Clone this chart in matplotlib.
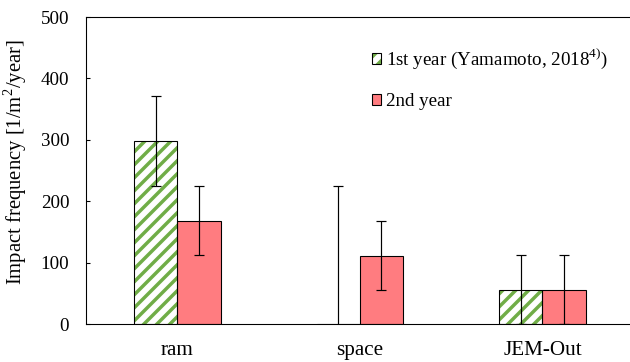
import matplotlib.pyplot as plt
from matplotlib.patches import Patch
from matplotlib.legend_handler import HandlerTuple
import numpy as np

categories = ["ram", "space", "JEM-Out"]
year1 = [298, 0, 56]
year1_err = [74, 225, 56]
year2 = [168, 111, 56]
year2_err = [56, 56, 56]

green = "#70AD47"
red = "#FF7C80"

plt.rcParams["font.family"] = ["Liberation Serif", "DejaVu Serif"]
plt.rcParams["mathtext.fontset"] = "custom"
plt.rcParams["mathtext.rm"] = "Liberation Serif"
plt.rcParams["hatch.linewidth"] = 3.2

dpi = 78
fig = plt.figure(figsize=(630 / dpi, 362 / dpi), dpi=dpi)
ax = fig.add_axes([86 / 630, 1 - 324 / 362, 1 - 86 / 630, (324 - 17) / 362])

x = np.arange(len(categories))
w = 0.237

# hatched 1st-year bars: green stripes, then a black outline on top
ax.bar(x - w / 2, year1, w, color="white", edgecolor=green, hatch="//", linewidth=0, zorder=2)
ax.bar(x - w / 2, year1, w, fill=False, edgecolor="black", linewidth=1.0, zorder=3)
ax.bar(x + w / 2, year2, w, color=red, edgecolor="black", linewidth=1.0, zorder=2)

ax.errorbar(x - w / 2, year1, yerr=year1_err, fmt="none", ecolor="black",
            elinewidth=1.1, capsize=4.2, capthick=1.1, zorder=4)
ax.errorbar(x + w / 2, year2, yerr=year2_err, fmt="none", ecolor="black",
            elinewidth=1.1, capsize=4.2, capthick=1.1, zorder=4)

ax.set_xlim(-0.5, 2.48)
ax.set_ylim(0, 500)
ax.set_yticks([0, 100, 200, 300, 400, 500])
ax.set_xticks(x)
ax.set_xticklabels(categories)
ax.tick_params(axis="y", direction="in", length=4, width=1, labelsize=17.5, pad=15.5)
ax.tick_params(axis="x", length=0, labelsize=19.5, pad=15.5)
ax.spines["right"].set_visible(False)
for s in ["left", "top", "bottom"]:
    ax.spines[s].set_linewidth(1.0)

ax.set_ylabel("Impact frequency [1/m$^2$/year]", fontsize=19)
ax.yaxis.set_label_coords(-0.104, 0.526)

h1 = (Patch(facecolor="white", edgecolor=green, hatch="//", linewidth=0),
      Patch(fill=False, edgecolor="black", linewidth=1.0))
h2 = Patch(facecolor=red, edgecolor="black", linewidth=1.0)
leg = ax.legend([h1, h2], ["1st year (Yamamoto, 2018$^{4)}$)", "2nd year"],
                handler_map={tuple: HandlerTuple(ndivide=1)},
                loc="upper left", bbox_to_anchor=(364 / 630, 1 - 39 / 362),
                bbox_transform=fig.transFigure, frameon=False, fontsize=17.5,
                handlelength=0.5, handleheight=0.5, handletextpad=0.25,
                labelspacing=1.15, borderaxespad=0)

fig.savefig("out.png", dpi=dpi)
